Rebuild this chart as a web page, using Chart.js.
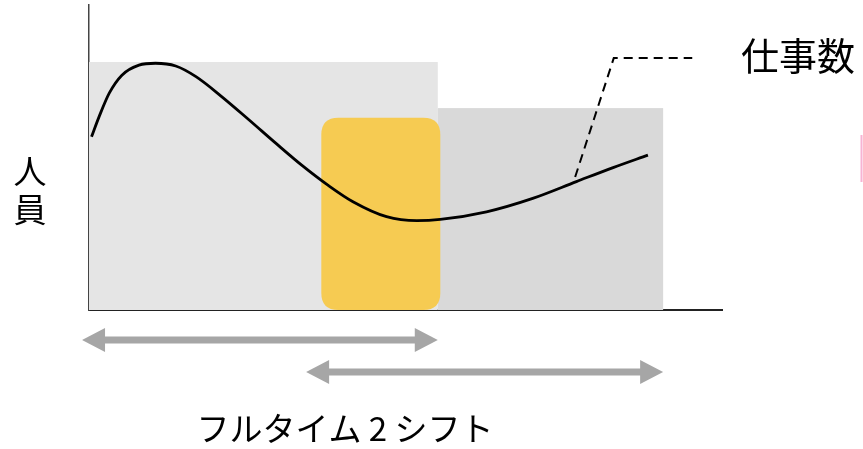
<!DOCTYPE html>
<html><head><meta charset="utf-8">
<script src="https://cdn.jsdelivr.net/npm/chart.js@4/dist/chart.umd.min.js"></script>
<style>html,body{margin:0;padding:0;background:#fff;}canvas{display:block;}</style>
</head><body>
<canvas id="c" width="863" height="449"></canvas>
<script>
// ---- data (x: time 0-100, y: staff/work 0-100) ----
const timeX    = [0.4, 1.6, 3.2, 5.2, 7.9, 10.5, 13.7, 16.9, 21.0, 25.3, 29.5, 33.6, 37.9, 41.7, 47.0, 51.8, 55.5, 62.8, 70.1, 77.0, 82.8, 88.3];
const workload = [56.8, 63.4, 71.1, 77.0, 80.3, 80.9, 80.0, 76.5, 69.9, 62.3, 54.7, 47.5, 40.7, 35.5, 30.6, 29.3, 29.7, 32.2, 36.6, 42.1, 46.7, 50.8];
const shiftStart = [0, 55.1];
const shiftEnd   = [55.1, 90.7];
const shiftStaff = [81.3, 66.2];
const overlapStart = [36.7];
const overlapEnd   = [55.5];
const overlapStaff = [63.0];
const arrowStart = [-1.1, 34.3];
const arrowEnd   = [55.1, 90.7];
const leaderX = [76.8, 82.9, 95.3];
const leaderY = [43.6, 82.6, 82.6];
const seriesLabel = '仕事数';
const yAxisLabel = ['人', '員'];
const shiftLabel = 'フルタイム 2 シフト';

const FONT = '"Noto Sans CJK JP", "Noto Sans", sans-serif';
const shiftColors = ['#e5e5e5', '#d9d9d9'];

function roundRect(ctx, x, y, w, h, r) {
  ctx.beginPath();
  ctx.moveTo(x + r, y);
  ctx.lineTo(x + w - r, y);
  ctx.quadraticCurveTo(x + w, y, x + w, y + r);
  ctx.lineTo(x + w, y + h - r);
  ctx.quadraticCurveTo(x + w, y + h, x + w - r, y + h);
  ctx.lineTo(x + r, y + h);
  ctx.quadraticCurveTo(x, y + h, x, y + h - r);
  ctx.lineTo(x, y + r);
  ctx.quadraticCurveTo(x, y, x + r, y);
  ctx.closePath();
}

const blocksPlugin = {
  id: 'blocks',
  beforeDatasetsDraw(chart) {
    const {ctx, scales: {x, y}} = chart;
    ctx.save();
    for (let i = 0; i < shiftStart.length; i++) {
      const x0 = x.getPixelForValue(shiftStart[i]);
      const x1 = x.getPixelForValue(shiftEnd[i]);
      const y0 = y.getPixelForValue(shiftStaff[i]);
      const y1 = y.getPixelForValue(0);
      ctx.fillStyle = shiftColors[i];
      ctx.fillRect(x0, y0, x1 - x0, y1 - y0);
    }
    for (let i = 0; i < overlapStart.length; i++) {
      const x0 = x.getPixelForValue(overlapStart[i]);
      const x1 = x.getPixelForValue(overlapEnd[i]);
      const y0 = y.getPixelForValue(overlapStaff[i]);
      const y1 = y.getPixelForValue(0);
      ctx.fillStyle = '#f6cb52';
      roundRect(ctx, x0, y0, x1 - x0, y1 - y0, 17);
      ctx.fill();
    }
    ctx.restore();
  },
  afterDraw(chart) {
    const {ctx, scales: {x, y}} = chart;
    const base = y.getPixelForValue(0);
    ctx.save();
    // arrows
    ctx.fillStyle = '#a6a6a6';
    const rows = [base + 30, base + 62];
    for (let i = 0; i < arrowStart.length; i++) {
      const x0 = x.getPixelForValue(arrowStart[i]);
      const x1 = x.getPixelForValue(arrowEnd[i]);
      const cy = rows[i];
      const hl = 23, hw = 12, sw = 3.5;
      ctx.beginPath();
      ctx.moveTo(x0, cy);
      ctx.lineTo(x0 + hl, cy - hw);
      ctx.lineTo(x0 + hl, cy - sw);
      ctx.lineTo(x1 - hl, cy - sw);
      ctx.lineTo(x1 - hl, cy - hw);
      ctx.lineTo(x1, cy);
      ctx.lineTo(x1 - hl, cy + hw);
      ctx.lineTo(x1 - hl, cy + sw);
      ctx.lineTo(x0 + hl, cy + sw);
      ctx.lineTo(x0 + hl, cy + hw);
      ctx.closePath();
      ctx.fill();
    }
    // texts
    ctx.fillStyle = '#000';
    ctx.textAlign = 'center';
    ctx.textBaseline = 'middle';
    ctx.font = '38px ' + FONT;
    ctx.fillText(seriesLabel, 798, 56);
    ctx.font = '33px ' + FONT;
    ctx.fillText(shiftLabel, 345, 428);
    ctx.font = '33px ' + FONT;
    ctx.fillText(yAxisLabel[0], 30, 171);
    ctx.fillText(yAxisLabel[1], 30, 209);
    // partial pink box edge at right
    ctx.strokeStyle = '#f7b3d3';
    ctx.lineWidth = 2;
    ctx.beginPath();
    ctx.moveTo(861.5, 135);
    ctx.lineTo(861.5, 182);
    ctx.stroke();
    ctx.restore();
  }
};

new Chart(document.getElementById('c'), {
  type: 'line',
  data: {
    datasets: [
      {
        label: seriesLabel,
        data: timeX.map((v, i) => ({x: v, y: workload[i]})),
        borderColor: '#000',
        borderWidth: 2.8,
        pointRadius: 0,
        cubicInterpolationMode: 'monotone',
        fill: false
      },
      {
        label: 'leader',
        data: leaderX.map((v, i) => ({x: v, y: leaderY[i]})),
        borderColor: '#000',
        borderWidth: 2,
        borderDash: [9, 6],
        pointRadius: 0,
        tension: 0,
        fill: false
      }
    ]
  },
  options: {
    responsive: false,
    animation: false,
    events: [],
    layout: {padding: {left: 89, top: 5, right: 141, bottom: 139}},
    plugins: {legend: {display: false}, tooltip: {enabled: false}, title: {display: false}},
    scales: {
      x: {
        type: 'linear', min: 0, max: 100,
        ticks: {display: false},
        grid: {display: false, drawTicks: false},
        border: {display: true, color: '#222', width: 2}
      },
      y: {
        type: 'linear', min: 0, max: 100,
        ticks: {display: false},
        grid: {display: false, drawTicks: false},
        border: {display: true, color: '#444', width: 1.5}
      }
    }
  },
  plugins: [blocksPlugin]
});
</script>
</body></html>
